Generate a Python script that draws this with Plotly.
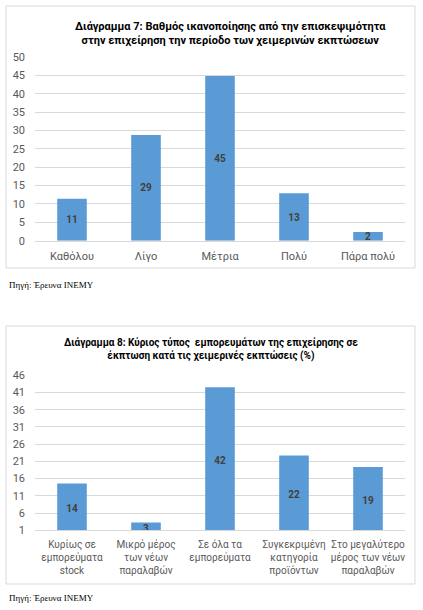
import plotly.graph_objects as go

W, H = 423, 610

# ---- Data ----
cats7 = ["Καθόλου", "Λίγο", "Μέτρια", "Πολύ", "Πάρα πολύ"]
vals7 = [11.4, 28.8, 44.8, 12.9, 2.4]

cats8 = ["Κυρίως σε<br>εμπορεύματα<br>stock", "Μικρό μέρος<br>των νέων<br>παραλαβών",
         "Σε όλα τα<br>εμπορεύματα", "Συγκεκριμένη<br>κατηγορία<br>προϊόντων",
         "Στο μεγαλύτερο<br>μέρος των νέων<br>παραλαβών"]
vals8 = [14.6, 3.3, 42.5, 22.7, 19.4]
labels8 = ["14", "3", "42", "22", "19"]

title7 = "Διάγραμμα 7: Βαθμός ικανοποίησης από την επισκεψιμότητα<br>στην επιχείρηση την περίοδο των χειμερινών εκπτώσεων"
title8 = "Διάγραμμα 8: Κύριος τύπος  εμπορευμάτων της επιχείρησης σε<br>έκπτωση κατά τις χειμερινές εκπτώσεις (%)"
source = "Πηγή: Έρευνα ΙΝΕΜΥ"

BAR = "#5b9bd5"
GRID = "#d9d9d9"
TICK = "#595959"
FONT = "Roboto"

def px(x):
    return x / W

def py(y):
    return 1 - y / H

fig = go.Figure()
fig.add_trace(go.Bar(x=cats7, y=vals7, width=0.4, marker=dict(color=BAR, line=dict(width=0)),
                     texttemplate="%{y:.0f}", textposition="inside", insidetextanchor="middle",
                     constraintext="none", textangle=0,
                     textfont=dict(family=FONT, size=10, color="#404040", weight="bold"),
                     xaxis="x", yaxis="y", showlegend=False, hoverinfo="skip"))
fig.add_trace(go.Bar(x=cats8, y=vals8, width=0.4, marker=dict(color=BAR, line=dict(width=0)),
                     text=labels8, textposition="inside", insidetextanchor="middle",
                     constraintext="none", textangle=0,
                     textfont=dict(family=FONT, size=10, color="#404040", weight="bold"),
                     xaxis="x2", yaxis="y2", showlegend=False, hoverinfo="skip"))

axfont = dict(family=FONT, size=11, color=TICK)
xdom = [px(35), px(405)]
fig.update_layout(
    width=W, height=H, autosize=False,
    margin=dict(l=0, r=0, t=0, b=0),
    paper_bgcolor="white", plot_bgcolor="white",
    xaxis=dict(domain=xdom, anchor="y", tickfont=axfont, showline=True, linecolor=GRID,
               showgrid=False, ticks="", ticklabelstandoff=5, tickangle=0, fixedrange=True,
               automargin=False),
    yaxis=dict(domain=[py(240.7), py(57)], anchor="x", range=[0, 50], dtick=5, tick0=0,
               tickfont=axfont, gridcolor=GRID, zeroline=False, showline=False,
               ticklabelstandoff=9, fixedrange=True, automargin=False),
    xaxis2=dict(domain=xdom, anchor="y2", tickfont=dict(family=FONT, size=10, color=TICK),
                showline=True, linecolor=GRID,
                showgrid=False, ticks="", ticklabelstandoff=5, tickangle=0, fixedrange=True,
                automargin=False),
    yaxis2=dict(domain=[py(530.3), py(375.3)], anchor="x2", range=[1, 46], dtick=5, tick0=1,
                tickfont=axfont, gridcolor=GRID, zeroline=False, showline=False,
                ticklabelstandoff=9, fixedrange=True, automargin=False),
    shapes=[
        dict(type="rect", xref="paper", yref="paper", x0=px(6), x1=px(415), y0=py(268), y1=py(6),
             line=dict(color=GRID, width=1), layer="below"),
        dict(type="rect", xref="paper", yref="paper", x0=px(6), x1=px(415), y0=py(584), y1=py(326),
             line=dict(color=GRID, width=1), layer="below"),
    ],
    annotations=[
        dict(text="<b>" + title7 + "</b>", xref="paper", yref="paper", x=px(230), y=py(34),
             xanchor="center", yanchor="middle", showarrow=False,
             font=dict(family=FONT, size=11, color="black")),
        dict(text="<b>" + title8 + "</b>", xref="paper", yref="paper", x=px(210.5), y=py(349.5),
             xanchor="center", yanchor="middle", showarrow=False,
             font=dict(family=FONT, size=10, color="black")),
        dict(text=source, xref="paper", yref="paper", x=px(7), y=py(285),
             xanchor="left", yanchor="middle", showarrow=False,
             font=dict(family="Liberation Serif", size=9, color="black")),
        dict(text=source, xref="paper", yref="paper", x=px(7), y=py(598),
             xanchor="left", yanchor="middle", showarrow=False,
             font=dict(family="Liberation Serif", size=9, color="black")),
    ],
)

fig.write_html("out.html")
